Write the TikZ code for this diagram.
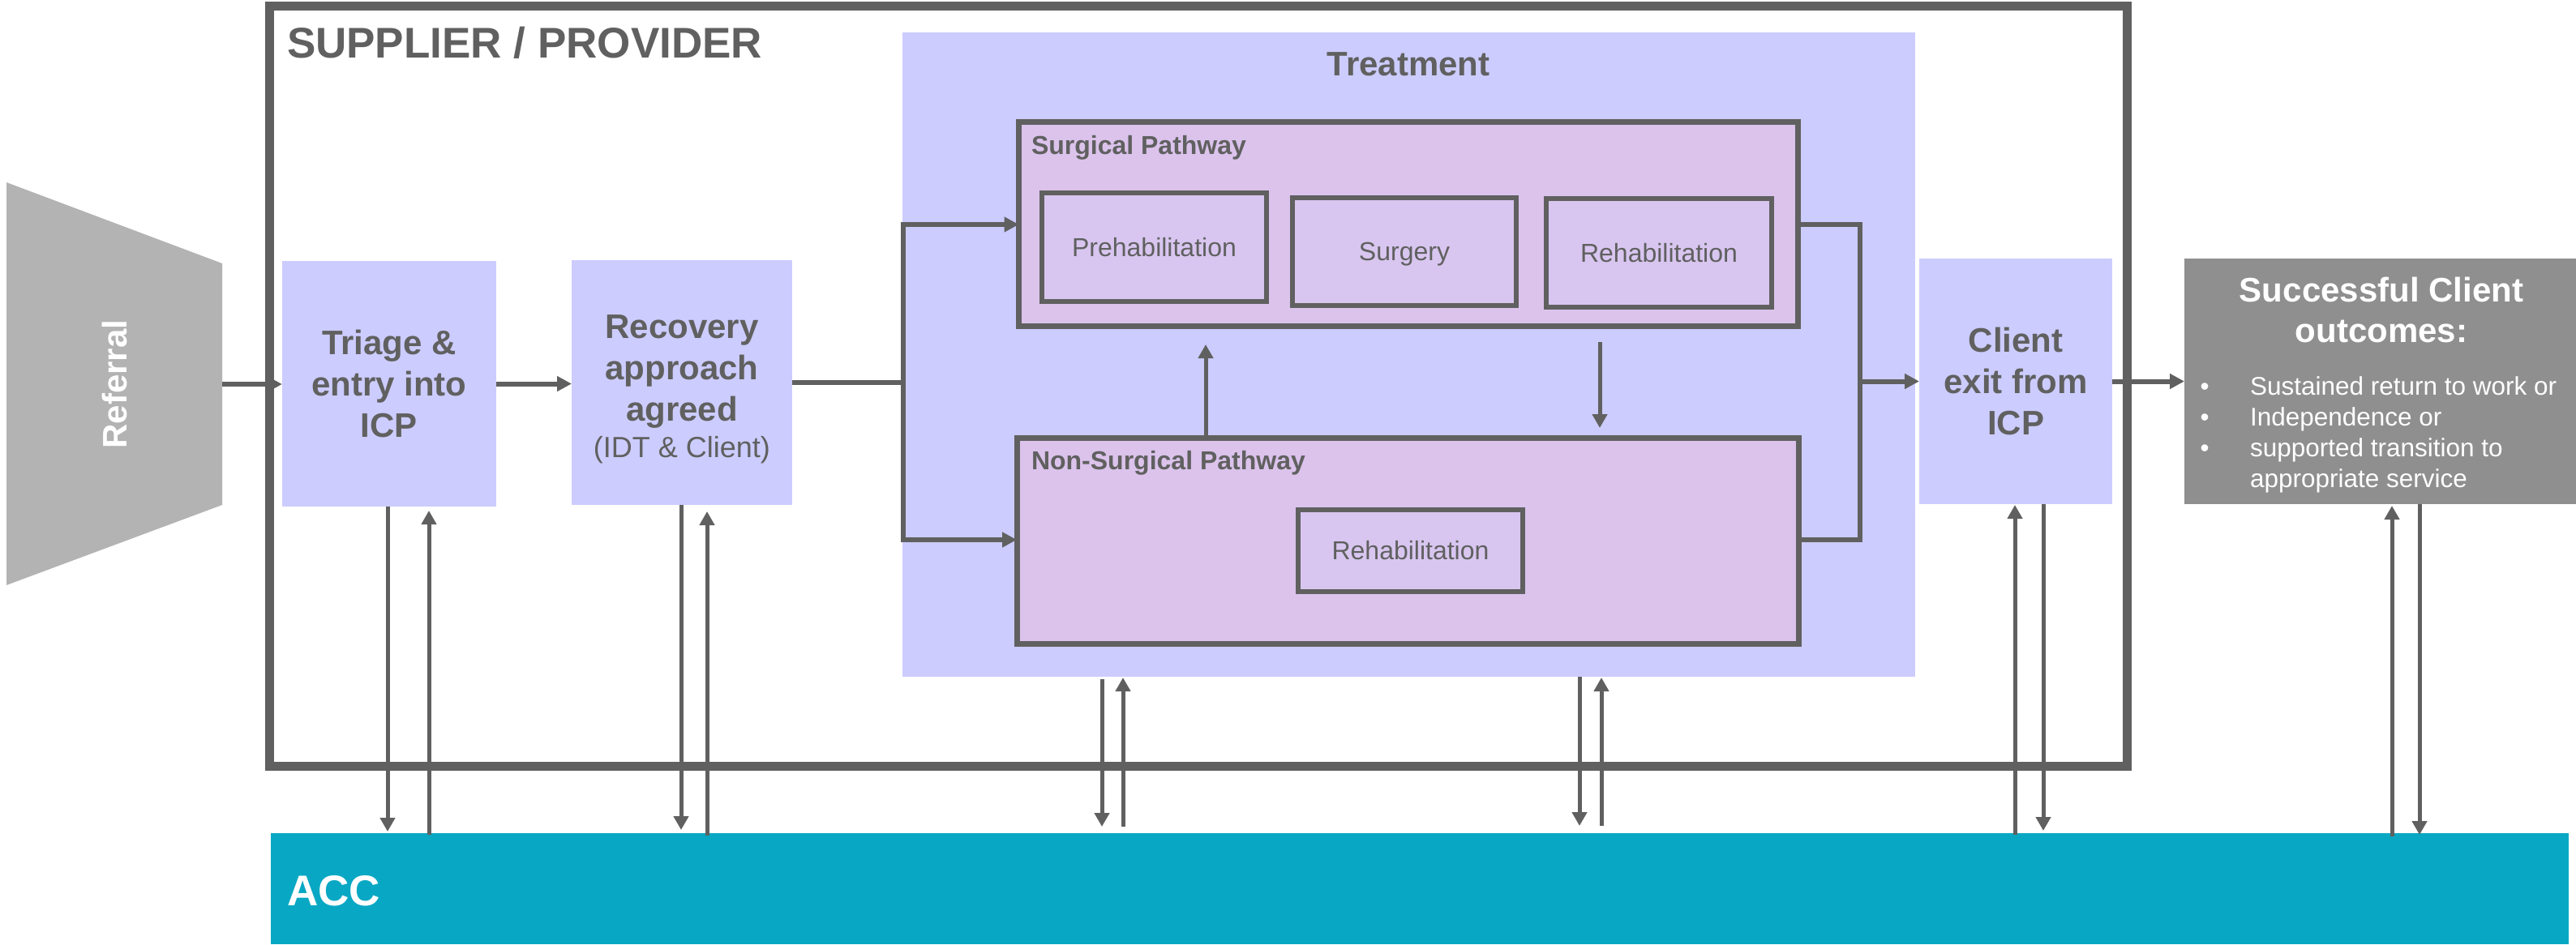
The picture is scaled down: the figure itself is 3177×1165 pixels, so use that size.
\documentclass[tikz,border=0pt]{standalone}
\usepackage{fontspec}
\setmainfont{Liberation Sans}
\usetikzlibrary{arrows.meta}
\definecolor{lineg}{HTML}{606060}
\definecolor{periw}{HTML}{CCCCFF}
\definecolor{lilac}{HTML}{DBC3EC}
\definecolor{lilacin}{HTML}{D8C6F0}
\definecolor{refg}{HTML}{B3B3B3}
\definecolor{succg}{HTML}{8F8F8F}
\definecolor{accc}{HTML}{08A8C4}
\begin{document}
\begin{tikzpicture}[x=1pt,y=-1pt,
  base/.style={inner sep=0pt,outer sep=0pt},
  bluebox/.style={base,fill=periw,text=lineg,align=center,font=\bfseries\fontsize{42pt}{51pt}\selectfont},
  pathbox/.style={base,fill=lilac,draw=lineg,line width=7pt},
  innerbox/.style={base,fill=lilacin,draw=lineg,line width=6pt,text=lineg,font=\fontsize{32pt}{38pt}\selectfont},
  pathlab/.style={base,anchor=base west,text=lineg,font=\bfseries\fontsize{32pt}{38pt}\selectfont},
  hline/.style={draw=lineg,line width=6pt},
  harr/.style={hline,-{Triangle[length=18pt,width=18pt]}},
  varr/.style={draw=lineg,line width=5pt,-{Triangle[length=17pt,width=18pt]}}]
\useasboundingbox (0,0) rectangle (3177,1165);

% Referral funnel
\fill[refg] (8,225) -- (274,325) -- (274,623) -- (8,722) -- cycle;
\node[base,rotate=90,text=white,font=\bfseries\fontsize{42pt}{50pt}\selectfont] (referral) at (141,474) {Referral};
\coordinate (refE) at (274,474);

% Supplier / provider frame
\node[base,draw=lineg,line width=11pt,minimum width=2291pt,minimum height=938pt] (supplier) at (1477.5,476) {};
\node[base,anchor=base west,text=lineg,font=\bfseries\fontsize{53pt}{60pt}\selectfont] (suplab) at (354,71) {SUPPLIER / PROVIDER};

% ACC bar
\node[base,fill=accc,minimum width=2834pt,minimum height=137pt] (acc) at (1751,1096.5) {};
\node[base,anchor=base west,text=white,font=\bfseries\fontsize{53pt}{60pt}\selectfont] (acclab) at (354,1117) {ACC};

% Boxes
\node[bluebox,minimum width=264pt,minimum height=303pt] (triage) at (480,473.5) {Triage \&\\entry into\\ICP};
\node[bluebox,minimum width=272pt,minimum height=302pt] (recovery) at (841,472) {\rule{0pt}{44.6pt}Recovery\\approach\\agreed\\[-6pt]{\mdseries\fontsize{36pt}{45pt}\selectfont(IDT \& Client)}};

\node[base,fill=periw,minimum width=1249pt,minimum height=795pt] (treatment) at (1737.5,437.5) {};
\node[base,anchor=base,text=lineg,font=\bfseries\fontsize{42pt}{50pt}\selectfont] (treatlab) at (1737,93) {Treatment};

\node[pathbox,minimum width=961pt,minimum height=252pt] (surgical) at (1737,276.5) {};
\node[pathlab] (surglab) at (1272,190) {Surgical Pathway};
\node[innerbox,minimum width=277pt,minimum height=134pt] (prehab) at (1423.5,305) {Prehabilitation};
\node[innerbox,minimum width=276pt,minimum height=133pt,text depth=0pt] (surgery) at (1732,310.5) {Surgery};
\node[innerbox,minimum width=278pt,minimum height=134pt] (rehabS) at (2046,312) {Rehabilitation};

\node[pathbox,minimum width=964pt,minimum height=254pt] (nonsurg) at (1736,667) {};
\node[pathlab] (nslab) at (1272,579) {Non-Surgical Pathway};
\node[innerbox,minimum width=277pt,minimum height=101pt] (rehabN) at (1739.5,679.5) {Rehabilitation};

\node[bluebox,minimum width=238pt,minimum height=303pt] (client) at (2486,470.5) {Client\\exit from\\ICP};

\node[base,fill=succg,minimum width=483pt,minimum height=303pt] (success) at (2935.5,470.5) {};
\node[base,text=white,align=center,font=\bfseries\fontsize{42pt}{50pt}\selectfont] (succtitle) at (2937,382) {Successful Client\\outcomes:};
\node[base,anchor=west,text=white,align=left,font=\fontsize{31.5pt}{38pt}\selectfont] (succlist) at (2713.5,536.8)
  {\makebox[61.5pt][l]{•}Sustained return to work or\\\makebox[61.5pt][l]{•}Independence or\\\makebox[61.5pt][l]{•}supported transition to\\\hspace*{61.5pt}appropriate service};

% helper coordinates
\coordinate (brT) at (1114,277);
\coordinate (brB) at (1114,666);
\coordinate (mgT) at (2294,277);
\coordinate (mgB) at (2294,666);
\coordinate (u1) at (1487,0);
\coordinate (d1) at (1973,0);
\coordinate (vx1) at (478,0);
\coordinate (vx2) at (529,0);
\coordinate (vx3) at (840,0);
\coordinate (vx4) at (872,0);
\coordinate (vx5) at (1359,0);
\coordinate (vx6) at (1385,0);
\coordinate (vx7) at (1948,0);
\coordinate (vx8) at (1975,0);
\coordinate (vx9) at (2485,0);
\coordinate (vx10) at (2520,0);
\coordinate (vx11) at (2950,0);
\coordinate (vx12) at (2984,0);

% main flow
\draw[harr] (refE) -- (refE -| triage.west);
\draw[harr] (triage.east) -- (triage.east -| recovery.west);
\draw[hline] (recovery.east) -- (recovery.east -| brT);
\draw[harr] (brB) -- (brT) -- (brT -| surgical.west);
\draw[harr] (brT) -- (brB) -- (brB -| nonsurg.west);
\draw[hline] (surgical.east |- mgT) -- (mgT) -- (mgB) -- (nonsurg.east |- mgB);
\draw[harr] (mgT |- client.west) -- (client.west);
\draw[harr] (client.east) -- (success.west);

% between pathways
\draw[varr,shorten >=22.5pt] (nonsurg.north -| u1) -- (surgical.south -| u1);
\draw[varr,shorten <=19.5pt,shorten >=12pt] (surgical.south -| d1) -- (nonsurg.north -| d1);

% exchanges with ACC
\draw[varr,shorten >=2pt] (triage.south -| vx1) -- (acc.north -| vx1);
\draw[varr,shorten <=-2pt,shorten >=5pt] (acc.north -| vx2) -- (triage.south -| vx2);
\draw[varr,shorten >=4pt] (recovery.south -| vx3) -- (acc.north -| vx3);
\draw[varr,shorten <=-3pt,shorten >=8pt] (acc.north -| vx4) -- (recovery.south -| vx4);
\draw[varr,shorten <=3pt,shorten >=8pt] (treatment.south -| vx5) -- (acc.north -| vx5);
\draw[varr,shorten <=8pt,shorten >=1pt] (acc.north -| vx6) -- (treatment.south -| vx6);
\draw[varr,shorten >=9pt] (treatment.south -| vx7) -- (acc.north -| vx7);
\draw[varr,shorten <=9pt,shorten >=1pt] (acc.north -| vx8) -- (treatment.south -| vx8);
\draw[varr,shorten <=-2pt,shorten >=1pt] (acc.north -| vx9) -- (client.south -| vx9);
\draw[varr,shorten >=3pt] (client.south -| vx10) -- (acc.north -| vx10);
\draw[varr,shorten <=-4pt,shorten >=2pt] (acc.north -| vx11) -- (success.south -| vx11);
\draw[varr,shorten >=-2pt] (success.south -| vx12) -- (acc.north -| vx12);
\end{tikzpicture}
\end{document}
